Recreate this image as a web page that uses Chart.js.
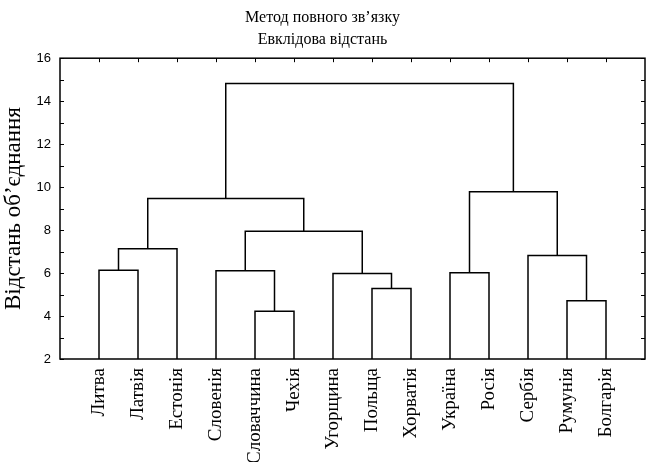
<!DOCTYPE html>
<html>
<head>
<meta charset="utf-8">
<script src="https://cdn.jsdelivr.net/npm/chart.js@4/dist/chart.umd.min.js"></script>
<style>
html,body{margin:0;padding:0;background:#fff;}
#wrap{width:651px;height:462px;position:relative;}
</style>
</head>
<body>
<div id="wrap"><canvas id="c" width="651" height="462"></canvas></div>
<script>
// Leaves (in dendrogram order)
const leaves = ['Литва','Латвія','Естонія','Словенія','Словаччина','Чехія','Угорщина','Польща','Хорватія','Україна','Росія','Сербія','Румунія','Болгарія'];
// Merges: child ids (0..13 leaves, 14+ merged clusters in order), linkage distance
const mergeLeft   = [0, 14, 4, 3, 7, 6, 17, 15, 9, 12, 11, 22, 21];
const mergeRight  = [1, 2, 5, 16, 8, 18, 19, 20, 10, 13, 23, 24, 25];
const mergeHeight = [6.13, 7.13, 4.22, 6.11, 5.28, 5.98, 7.95, 9.47, 6.01, 4.71, 6.82, 9.79, 14.82];
const yTicks = [2, 4, 6, 8, 10, 12, 14, 16];

const baseY = yTicks[0];
const nodeX = leaves.map((_, i) => i + 1);
const nodeH = leaves.map(() => baseY);
const datasets = [];
mergeHeight.forEach((h, k) => {
  const a = mergeLeft[k], b = mergeRight[k];
  datasets.push({
    data: [
      {x: nodeX[a], y: nodeH[a]},
      {x: nodeX[a], y: h},
      {x: nodeX[b], y: h},
      {x: nodeX[b], y: nodeH[b]}
    ],
    borderColor: '#000', borderWidth: 1.5, pointRadius: 0, tension: 0,
    fill: false, showLine: true
  });
  nodeX.push((nodeX[a] + nodeX[b]) / 2);
  nodeH.push(h);
});

const frame = {
  id: 'frame',
  afterDraw(chart) {
    const {ctx, chartArea: ca, scales: {x, y}} = chart;
    ctx.save();
    ctx.strokeStyle = '#000';
    ctx.lineWidth = 1.5;
    ctx.strokeRect(ca.left, ca.top, ca.right - ca.left, ca.bottom - ca.top);
    ctx.lineWidth = 1;
    ctx.beginPath();
    for (let v = yTicks[0]; v <= yTicks[yTicks.length - 1]; v += 1) {
      const py = Math.round(y.getPixelForValue(v)) + 0.5;
      ctx.moveTo(ca.left, py); ctx.lineTo(ca.left + 4, py);
      ctx.moveTo(ca.right, py); ctx.lineTo(ca.right - 4, py);
    }
    for (let i = 1; i <= leaves.length; i++) {
      const px = Math.round(x.getPixelForValue(i)) + 0.5;
      ctx.moveTo(px, ca.top); ctx.lineTo(px, ca.top + 4);
    }
    ctx.stroke();
    ctx.restore();
  }
};

new Chart(document.getElementById('c'), {
  type: 'scatter',
  data: {datasets},
  options: {
    responsive: false,
    animation: false,
    layout: {padding: {left: 0, right: 6, top: 0, bottom: 0}},
    plugins: {
      legend: {display: false},
      tooltip: {enabled: false},
      title: {
        display: true,
        text: ['Метод повного зв’язку', 'Евклідова відстань'],
        color: '#000',
        font: {family: '"Liberation Serif", "Times New Roman", serif', size: 16, weight: 'normal', lineHeight: 1.35},
        padding: {top: 7, bottom: 8}
      }
    },
    scales: {
      x: {
        type: 'linear', min: 0, max: leaves.length + 1,
        grid: {display: false, drawTicks: false},
        border: {display: false},
        afterBuildTicks(s) { s.ticks = leaves.map((_, i) => ({value: i + 1})); },
        afterFit(s) { s.height = 103; },
        ticks: {
          autoSkip: false, maxRotation: 90, minRotation: 90, padding: 9,
          color: '#000',
          font: {family: '"Liberation Serif", "Times New Roman", serif', size: 19},
          callback: (v) => leaves[v - 1] || ''
        }
      },
      y: {
        min: yTicks[0], max: yTicks[yTicks.length - 1],
        grid: {display: false, drawTicks: false},
        border: {display: false},
        afterBuildTicks(s) { s.ticks = yTicks.map(v => ({value: v})); },
        afterFit(s) { s.width = 60; },
        title: {
          display: true, text: 'Відстань об’єднання', color: '#000',
          font: {family: '"Liberation Serif", "Times New Roman", serif', size: 23, lineHeight: 1.2},
          padding: {top: 0, bottom: 0}
        },
        ticks: {
          color: '#000', padding: 9,
          font: {family: '"Liberation Sans", Arial, sans-serif', size: 13}
        }
      }
    }
  },
  plugins: [frame]
});
</script>
</body>
</html>
